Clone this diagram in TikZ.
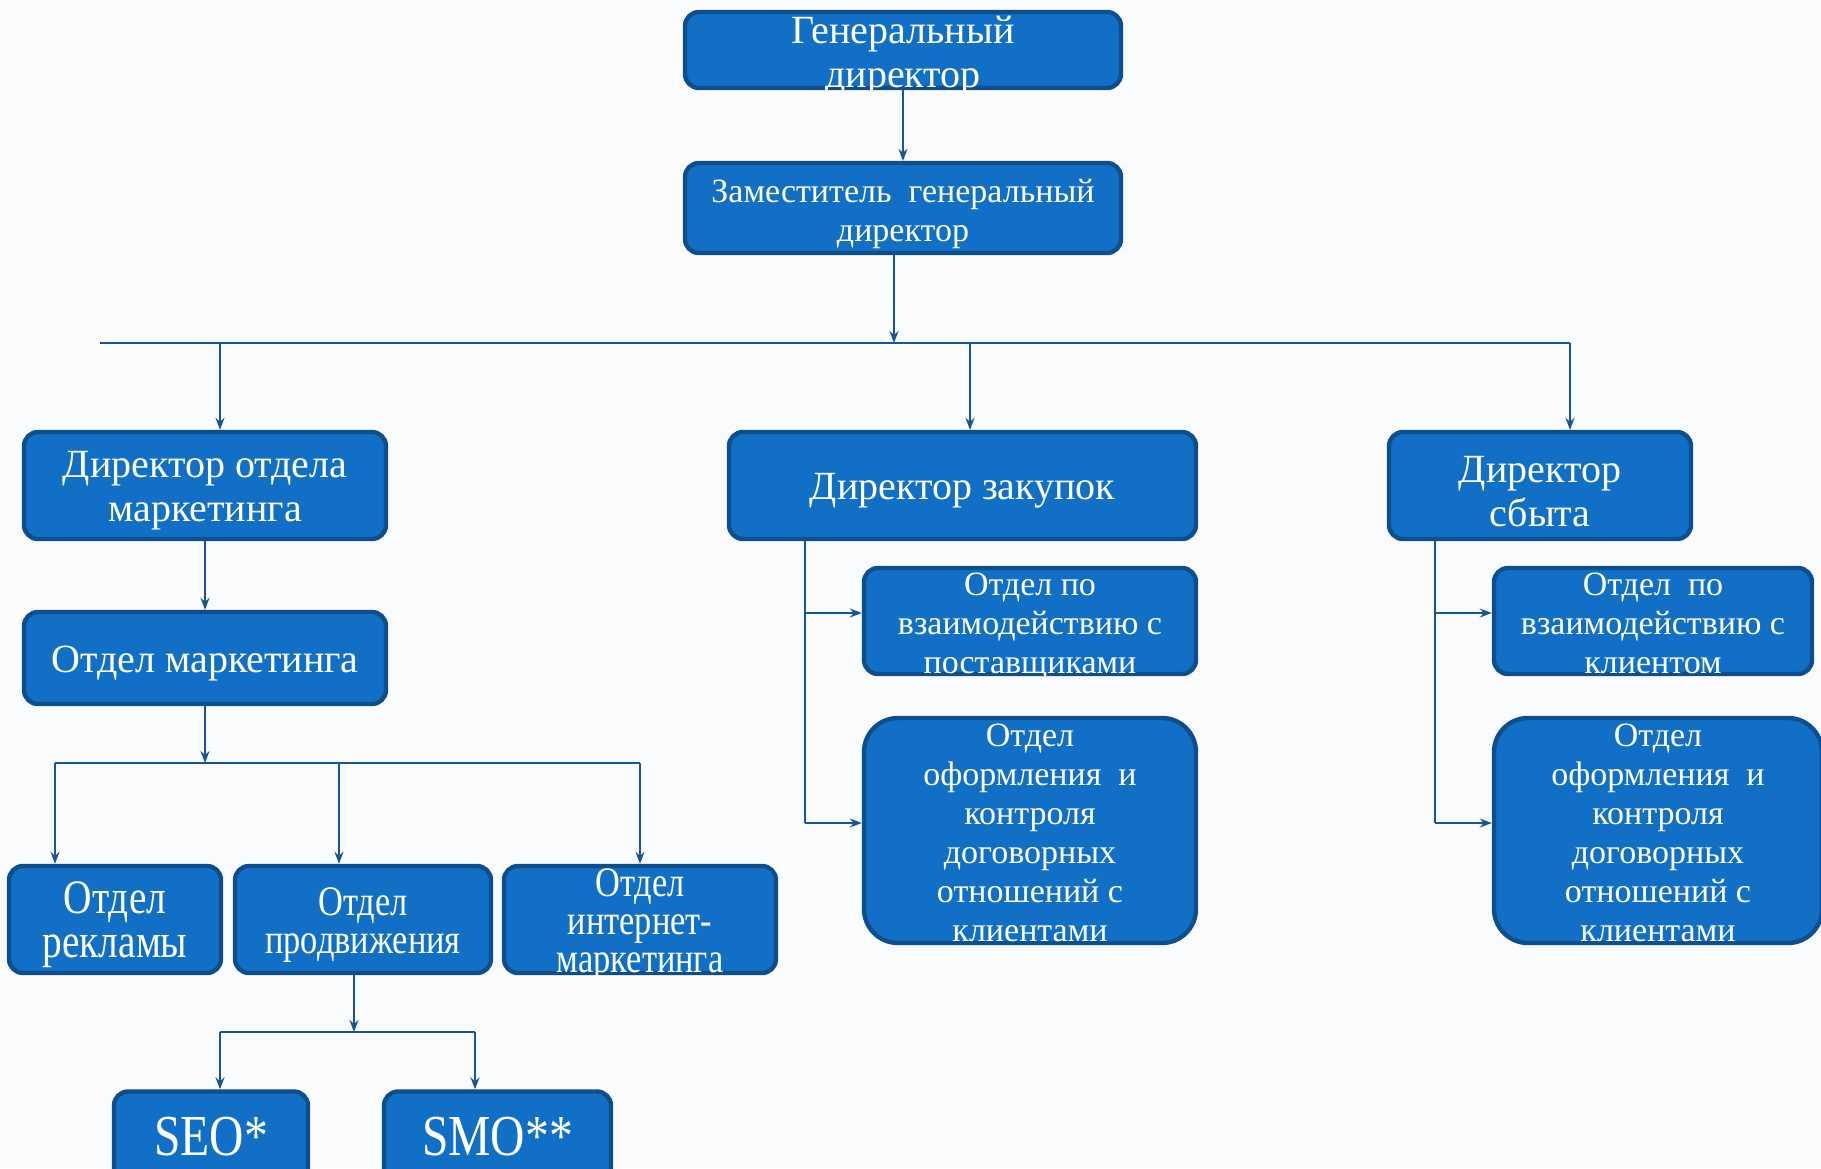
\documentclass[tikz,border=0pt]{standalone}
\usepackage{fontspec}
\setmainfont{Liberation Serif}
\newfontfamily\uzkij[FakeStretch=0.82]{Liberation Serif}
\usetikzlibrary{arrows.meta}
\definecolor{sinij}{RGB}{17,112,198}
\definecolor{kraj}{RGB}{14,78,140}
\definecolor{linc}{RGB}{22,86,148}
\definecolor{fon}{RGB}{250,251,252}
\tikzset{
  blok/.style={draw=kraj, fill=sinij, line width=2.2pt, rounded corners=7pt,
    inner sep=0pt},
  okruglyj/.style={blok, rounded corners=17pt},
  every label/.style={align=center, text=white, inner sep=0pt, yshift=-2.8pt},
  bolshoj/.style={font=\fontsize{20}{22}\selectfont},
  srednij/.style={font=\fontsize{17}{19.5}\selectfont},
  uzkijB/.style={font=\uzkij\fontsize{24}{22}\selectfont},
  uzkijS/.style={font=\uzkij\fontsize{21}{19}\selectfont},
  uzkijX/.style={font=\uzkij\fontsize{29}{30}\selectfont, yshift=3.5pt},
  svaz/.style={draw=linc, line width=1.1pt},
  strelka/.style={svaz, -{Stealth[length=6pt,width=4.5pt,inset=2pt]}}
}
\begin{document}
\begin{tikzpicture}[x=0.5pt, y=-0.5pt]
\fill[fon] (0,0) rectangle (1821,1168);
\useasboundingbox (0,0) rectangle (1821,1168);

% top
\node[blok, minimum width=218pt, minimum height=38pt,
  label={[bolshoj]center:{Генеральный\\директор}}] (gd) at (903,50) {};
\node[blok, minimum width=218pt, minimum height=45pt,
  label={[srednij]center:{Заместитель\ \ генеральный\\директор}}] (zgd) at (903,208) {};

% directors
\node[blok, minimum width=181pt, minimum height=53.5pt,
  label={[bolshoj]center:{Директор отдела\\маркетинга}}] (dm) at (205,485.5) {};
\node[blok, minimum width=233.5pt, minimum height=53.5pt,
  label={[bolshoj]center:{Директор закупок}}] (dz) at (962.5,485.5) {};
\node[blok, minimum width=151pt, minimum height=53.5pt,
  label={[bolshoj]center:{Директор\\сбыта}}] (ds) at (1540,485.5) {};

% marketing
\node[blok, minimum width=181pt, minimum height=46pt,
  label={[bolshoj]center:{Отдел маркетинга}}] (om) at (205,658) {};
\node[blok, minimum width=106pt, minimum height=53.5pt,
  label={[uzkijB]center:{Отдел\\рекламы}}] (ork) at (115,919.5) {};
\node[blok, minimum width=128pt, minimum height=53.5pt,
  label={[uzkijS]center:{Отдел\\продвижения}}] (opr) at (363,919.5) {};
\node[blok, minimum width=136pt, minimum height=53.5pt,
  label={[uzkijS]center:{Отдел\\интернет-\\маркетинга}}] (oim) at (640,919.5) {};
\node[blok, minimum width=97pt, minimum height=46.5pt,
  label={[uzkijX]center:{SEO*}}] (seo) at (211,1138) {};
\node[blok, minimum width=113.5pt, minimum height=46.5pt,
  label={[uzkijX]center:{SMO**}}] (smo) at (497.5,1138) {};

% zakupki and sbyt
\node[blok, minimum width=166pt, minimum height=53pt,
  label={[srednij]center:{Отдел по\\взаимодействию с\\поставщиками}}] (ops) at (1030,621) {};
\node[okruglyj, minimum width=166pt, minimum height=112.5pt,
  label={[srednij, yshift=1.5pt]center:{Отдел\\оформления\ \ и\\контроля\\договорных\\отношений с\\клиентами}}]
  (ook1) at (1030,830.5) {};
\node[blok, minimum width=159pt, minimum height=53pt,
  label={[srednij, yshift=1.8pt]center:{Отдел\ \ по\\взаимодействию с\\клиентом}}] (ok) at (1653,621) {};
\node[okruglyj, minimum width=164pt, minimum height=112.5pt,
  label={[srednij, yshift=1.5pt]center:{Отдел\\оформления\ \ и\\контроля\\договорных\\отношений с\\клиентами}}]
  (ook2) at (1658,830.5) {};

% bus under deputy
\coordinate (shinaL) at (100,343);
\coordinate (shinaR) at (1570,343);
\coordinate (b1) at (220,343);
\coordinate (b2) at (970,343);
\draw[strelka] (gd) -- (zgd);
\draw[strelka] ([xshift=-4.5pt]zgd.south) -- ([xshift=-4.5pt]zgd.south |- shinaL);
\draw[svaz] (shinaL) -- (shinaR);
\draw[strelka] (b1) -- (b1 |- dm.north);
\draw[strelka] (b2) -- (b2 |- dz.north);
\draw[strelka] (shinaR) -- (shinaR |- ds.north);

% marketing tree
\draw[strelka] (dm) -- (om);
\coordinate (u2) at (205,763);
\coordinate (k1) at (55,763);
\coordinate (k2) at (339,763);
\coordinate (k3) at (640,763);
\draw[strelka] (om) -- (u2);
\draw[svaz] (k1) -- (k3);
\foreach \k/\n in {k1/ork, k2/opr, k3/oim}
  \draw[strelka] (\k) -- (\k |- \n.north);

\coordinate (u3) at (354,1032);
\coordinate (m1) at (220,1032);
\coordinate (m2) at (475,1032);
\draw[strelka] ([xshift=-4.5pt]opr.south) -- (u3);
\draw[svaz] (m1) -- (m2);
\draw[strelka] (m1) -- (m1 |- seo.north);
\draw[strelka] (m2) -- (m2 |- smo.north);

% side branches
\coordinate (z0) at (805,823);
\draw[svaz] (z0 |- dz.south) -- (z0);
\draw[strelka] ([yshift=4pt]z0 |- ops.west) -- ([yshift=4pt]ops.west);
\draw[strelka] (z0) -- (z0 -| ook1.west);
\coordinate (s0) at (1435,823);
\draw[svaz] (s0 |- ds.south) -- (s0);
\draw[strelka] ([yshift=4pt]s0 |- ok.west) -- ([yshift=4pt]ok.west);
\draw[strelka] (s0) -- (s0 -| ook2.west);
\end{tikzpicture}
\end{document}
